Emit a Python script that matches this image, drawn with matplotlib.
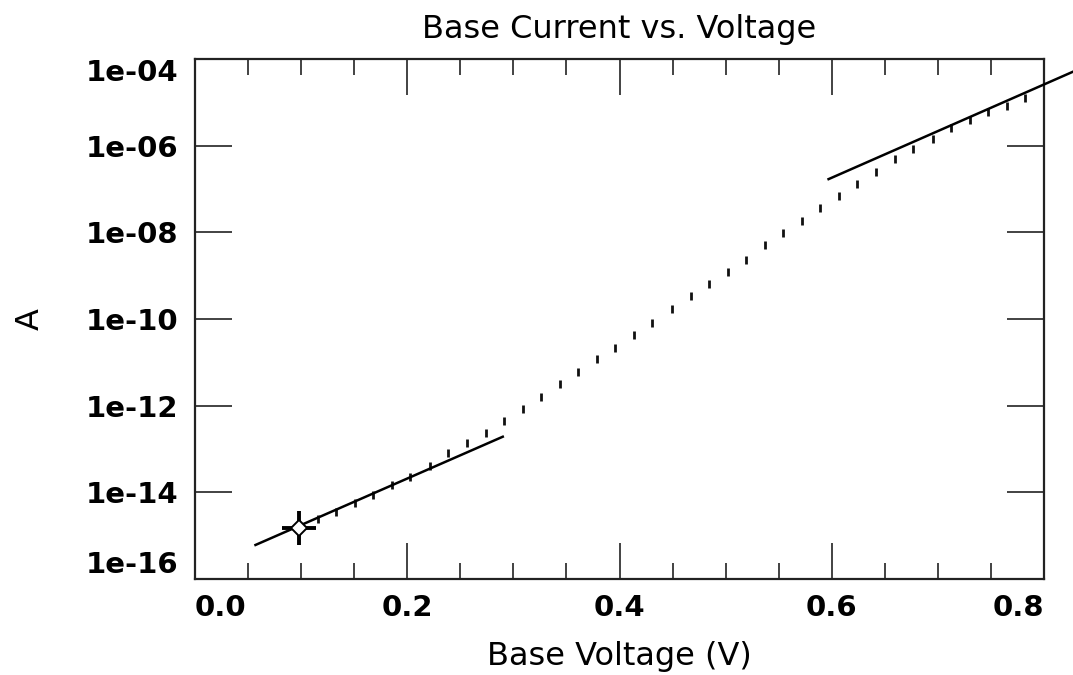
import matplotlib
matplotlib.use("Agg")
import matplotlib.pyplot as plt
from matplotlib.ticker import FixedLocator, FixedFormatter, MultipleLocator

# Measured base current sweep
base_voltage = [0.098, 0.116, 0.133, 0.151, 0.168, 0.186, 0.203, 0.221, 0.238, 0.256,
                0.274, 0.291, 0.309, 0.326, 0.344, 0.361, 0.379, 0.396, 0.414, 0.431,
                0.449, 0.467, 0.484, 0.502, 0.519, 0.537, 0.554, 0.572, 0.589, 0.607,
                0.624, 0.642, 0.660, 0.677, 0.695, 0.712, 0.730, 0.747, 0.765, 0.782]
base_current = [1.51e-15, 2.40e-15, 3.55e-15, 5.62e-15, 8.71e-15, 1.48e-14, 2.29e-14, 4.07e-14,
                7.94e-14, 1.35e-13, 2.29e-13, 4.37e-13, 8.51e-13, 1.62e-12, 3.09e-12, 6.03e-12,
                1.17e-11, 2.19e-11, 4.27e-11, 8.13e-11, 1.74e-10, 3.39e-10, 6.46e-10, 1.23e-09,
                2.34e-09, 5.01e-09, 9.77e-09, 1.86e-08, 3.63e-08, 6.76e-08, 1.32e-07, 2.51e-07,
                4.90e-07, 8.32e-07, 1.45e-06, 2.51e-06, 3.89e-06, 6.03e-06, 8.32e-06, 1.29e-05]

# Exponential fits in the low- and high-injection regions
fit_low_v = [0.057, 0.290]
fit_low_i = [6.1e-16, 1.92e-13]
fit_high_v = [0.597, 0.827]
fit_high_i = [1.69e-07, 5.05e-05]

# Cursor position
cursor_v = [0.098]
cursor_i = [1.51e-15]

y_ticks = [1e-16, 1e-14, 1e-12, 1e-10, 1e-08, 1e-06, 1e-04]
y_tick_labels = ["1e-16", "1e-14", "1e-12", "1e-10", "1e-08", "1e-06", "1e-04"]
x_ticks = [0.0, 0.2, 0.4, 0.6, 0.8]
x_tick_labels = ["0.0", "0.2", "0.4", "0.6", "0.8"]

plt.rcParams["font.family"] = ["DejaVu Sans"]
ink = "#111111"

fig = plt.figure(figsize=(10.73, 6.75), dpi=100)
ax = fig.add_axes([195 / 1073, 1 - 579 / 675, (1044 - 195) / 1073, (579 - 59) / 675])

ax.set_yscale("log")
ax.set_xlim(0.0, 0.8)
ax.set_ylim(1e-16, 1e-04)

ax.plot(base_voltage, base_current, linestyle="none", marker="|",
        markersize=5.5, markeredgewidth=2.0, color=ink, zorder=3)
ax.plot(fit_low_v, fit_low_i, color="black", lw=1.8, zorder=4)
ax.plot(fit_high_v, fit_high_i, color="black", lw=1.8, zorder=4, clip_on=False)

ax.plot(cursor_v, cursor_i, linestyle="none", marker="+", markersize=25,
        markeredgewidth=2.8, color="black", zorder=5)
ax.plot(cursor_v, cursor_i, linestyle="none", marker="D", markersize=8.5,
        markerfacecolor="white", markeredgecolor="black", markeredgewidth=1.4, zorder=6)

for s in ax.spines.values():
    s.set_linewidth(1.6)
    s.set_color("#222222")

ax.xaxis.set_major_locator(FixedLocator(x_ticks))
ax.xaxis.set_major_formatter(FixedFormatter(x_tick_labels))
ax.xaxis.set_minor_locator(MultipleLocator(0.05))
ax.yaxis.set_major_locator(FixedLocator(y_ticks))
ax.yaxis.set_major_formatter(FixedFormatter(y_tick_labels))
ax.yaxis.set_minor_locator(FixedLocator([]))

ax.tick_params(axis="x", which="major", direction="in", length=26, width=1.2,
               top=True, bottom=True, pad=11, labelsize=21, colors="#222222",
               labelcolor="black")
ax.tick_params(axis="x", which="minor", direction="in", length=11.5, width=1.2,
               top=True, bottom=True, colors="#222222")
ax.tick_params(axis="y", which="major", direction="in", length=26.5, width=1.2,
               left=True, right=True, pad=12, labelsize=21, colors="#222222",
               labelcolor="black")

for lab in ax.get_xticklabels() + ax.get_yticklabels():
    lab.set_fontweight("bold")

fig.canvas.draw()
xl = ax.get_xticklabels()
xl[0].set_ha("left")
xl[-1].set_ha("right")
yl = ax.get_yticklabels()
yl[0].set_va("bottom")
yl[-1].set_va("top")

ax.set_xlabel("Base Voltage (V)", fontsize=23)
ax.xaxis.label.set_va("center")
ax.xaxis.set_label_coords(0.5, -0.150)

ax.set_ylabel("A", fontsize=23)
ax.yaxis.label.set_va("center")
ax.yaxis.set_label_coords(-0.194, 0.5)

title = ax.set_title("Base Current vs. Voltage", fontsize=23, y=1.056, pad=0)
title.set_va("center")

fig.savefig("out.png", dpi=100)
